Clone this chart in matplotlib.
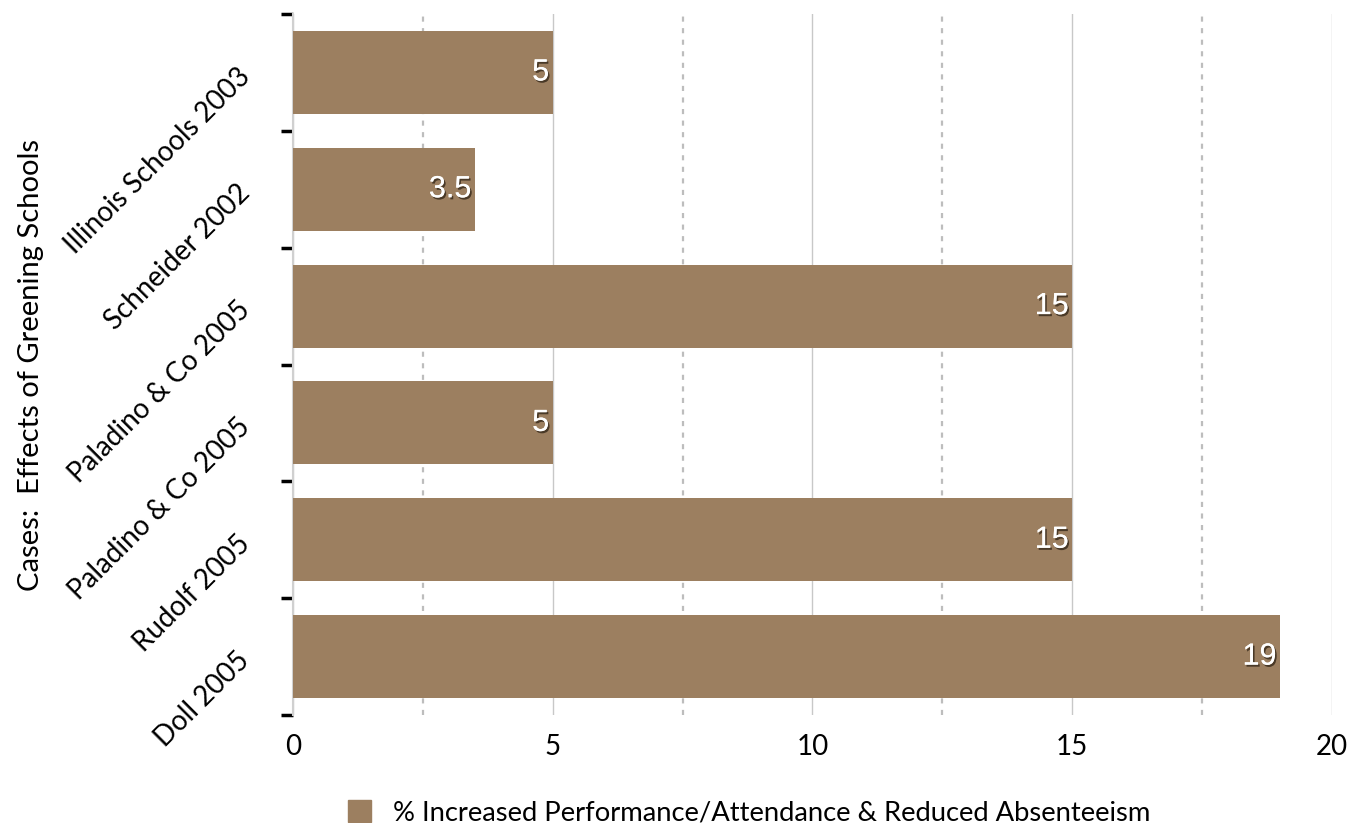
import numpy as np
import matplotlib.pyplot as plt
import matplotlib.patheffects as pe
from matplotlib.patches import Patch

# Данные
cases = ['Illinois Schools 2003', 'Schneider 2002', 'Paladino & Co 2005',
         'Paladino & Co 2005', 'Rudolf 2005', 'Doll 2005']
values = [5, 3.5, 15, 5, 15, 19]
value_labels = ['5', '3.5', '15', '5', '15', '19']
series_name = '% Increased Performance/Attendance & Reduced Absenteeism'

bar_color = '#9c7f60'
plt.rcParams['font.family'] = ['Lato', 'DejaVu Sans']

fig = plt.figure(figsize=(13.6, 8.23), dpi=100)
ax = fig.add_axes([0.2154, 0.1312, 0.7640, 0.8518])

pos = np.arange(len(cases))
ax.barh(pos, values, height=0.71, color=bar_color, zorder=3)
ax.set_ylim(len(cases) - 0.5, -0.5)
ax.set_xlim(0, 20)

# Подписи значений внутри столбцов
for p, v, lab in zip(pos, values, value_labels):
    ax.text(v - 0.07, p, lab, ha='right', va='center', color='white',
            fontsize=22, family='Liberation Sans', zorder=4,
            path_effects=[pe.withSimplePatchShadow(offset=(1.2, -1.5), shadow_rgbFace='#2e2215', alpha=0.75),
                          pe.Normal()])

# Сетка
ax.set_xticks([0, 5, 10, 15, 20])
ax.set_xticks([2.5, 7.5, 12.5, 17.5], minor=True)
ax.grid(True, axis='x', which='major', color='#c8c8c8', linewidth=1, zorder=0)
ax.grid(True, axis='x', which='minor', color='#bdbdbd', linewidth=1.6,
        linestyle=(0, (2.3, 2.9)), zorder=0)
ax.tick_params(axis='x', which='both', length=0, labelsize=20, pad=14)

# Ось Y: засечки между категориями, подписи по центру
ax.set_yticks(np.arange(-0.5, len(cases), 1))
ax.set_yticklabels([])
ax.tick_params(axis='y', which='major', length=9, width=2.5, color='black')
ax.set_yticks(pos, minor=True)
ax.set_yticklabels(cases, minor=True, rotation=45, ha='right', va='center',
                   rotation_mode='anchor', fontsize=20)
ax.tick_params(axis='y', which='minor', length=0, pad=34)

for s in ['top', 'right', 'bottom']:
    ax.spines[s].set_visible(False)
ax.spines['left'].set_color('#d0d0d0')
ax.spines['left'].set_linewidth(1.5)

ax.set_ylabel('Cases:  Effects of Greening Schools', fontsize=21)
ax.yaxis.set_label_coords(-0.24, 0.5)

fig.legend(handles=[Patch(color=bar_color, label=series_name)],
           loc='lower center', bbox_to_anchor=(0.551, -0.033), frameon=False,
           fontsize=19.7, handlelength=0.85, handleheight=0.85, handletextpad=0.8)

fig.savefig('out.png', dpi=100)
